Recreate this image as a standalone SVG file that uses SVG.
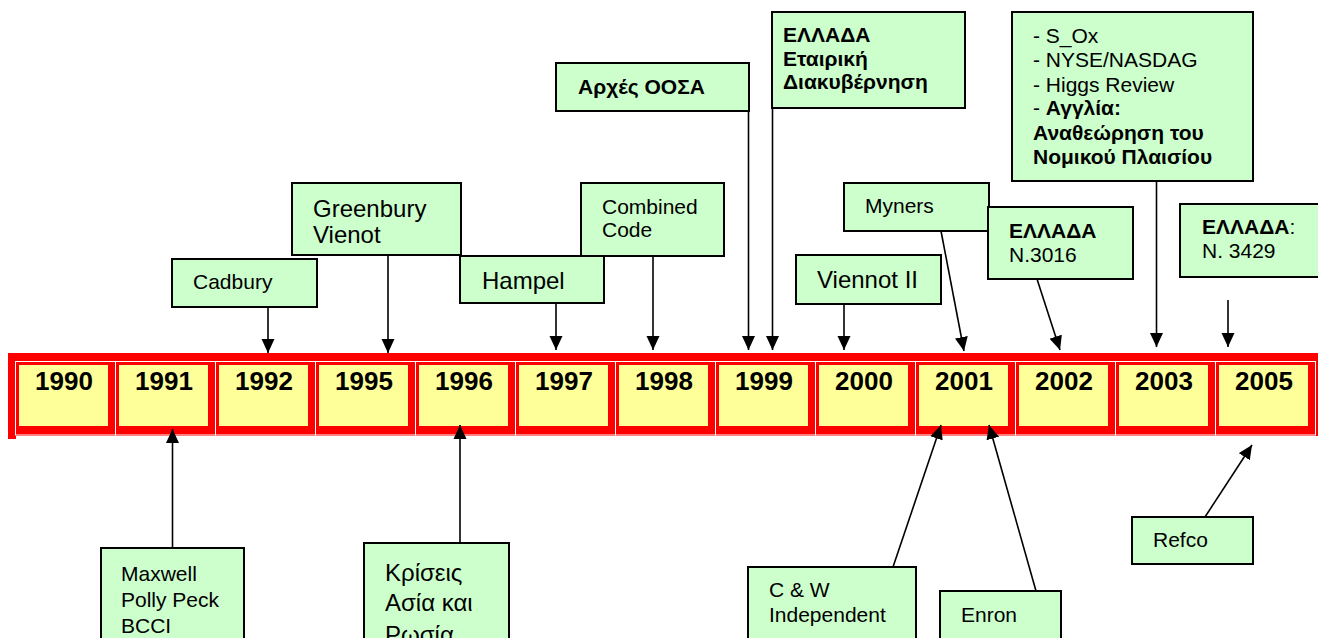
<svg xmlns="http://www.w3.org/2000/svg" width="1318" height="638" viewBox="0 0 1318 638">
<style>
text{font-family:"Liberation Sans",Arial,sans-serif;fill:#000}
.box{fill:#CCFFCC;stroke:#000;stroke-width:2}
.yr{font-size:26px;font-weight:bold;text-anchor:middle}
.cell{fill:#FF0000;stroke:#FFFFFF;stroke-width:1}
.yel{fill:#FFFF99}
.t21{font-size:21px}
.t24{font-size:24px}
.b{font-weight:bold}
.con line{stroke:#000;stroke-width:1.6;marker-end:url(#ah)}
</style>
<defs>
<marker id="ah" markerUnits="userSpaceOnUse" markerWidth="14" markerHeight="14" viewBox="0 0 14 14" refX="14" refY="7" orient="auto">
<path d="M0,0.5 L14,7 L0,13.5 Z" fill="#000"/>
</marker>
</defs>
<rect width="1318" height="638" fill="#FFFFFF"/>
<g id="timeline">
<rect x="8" y="353" width="1310" height="83" fill="#FF0000"/>
<rect x="8" y="353" width="8" height="86" fill="#FF0000"/>
<g id="y1990"><rect class="cell" x="15.5" y="361.5" width="100" height="73.5"/><rect class="yel" x="19" y="365" width="89" height="61"/><text class="yr" x="64" y="390">1990</text></g>
<g id="y1991"><rect class="cell" x="115.5" y="361.5" width="100" height="73.5"/><rect class="yel" x="119" y="365" width="89" height="61"/><text class="yr" x="164" y="390">1991</text></g>
<g id="y1992"><rect class="cell" x="215.5" y="361.5" width="100" height="73.5"/><rect class="yel" x="219" y="365" width="89" height="61"/><text class="yr" x="264" y="390">1992</text></g>
<g id="y1995"><rect class="cell" x="315.5" y="361.5" width="100" height="73.5"/><rect class="yel" x="319" y="365" width="89" height="61"/><text class="yr" x="364" y="390">1995</text></g>
<g id="y1996"><rect class="cell" x="415.5" y="361.5" width="100" height="73.5"/><rect class="yel" x="419" y="365" width="89" height="61"/><text class="yr" x="464" y="390">1996</text></g>
<g id="y1997"><rect class="cell" x="515.5" y="361.5" width="100" height="73.5"/><rect class="yel" x="519" y="365" width="89" height="61"/><text class="yr" x="564" y="390">1997</text></g>
<g id="y1998"><rect class="cell" x="615.5" y="361.5" width="100" height="73.5"/><rect class="yel" x="619" y="365" width="89" height="61"/><text class="yr" x="664" y="390">1998</text></g>
<g id="y1999"><rect class="cell" x="715.5" y="361.5" width="100" height="73.5"/><rect class="yel" x="719" y="365" width="89" height="61"/><text class="yr" x="764" y="390">1999</text></g>
<g id="y2000"><rect class="cell" x="815.5" y="361.5" width="100" height="73.5"/><rect class="yel" x="819" y="365" width="89" height="61"/><text class="yr" x="864" y="390">2000</text></g>
<g id="y2001"><rect class="cell" x="915.5" y="361.5" width="100" height="73.5"/><rect class="yel" x="919" y="365" width="89" height="61"/><text class="yr" x="964" y="390">2001</text></g>
<g id="y2002"><rect class="cell" x="1015.5" y="361.5" width="100" height="73.5"/><rect class="yel" x="1019" y="365" width="89" height="61"/><text class="yr" x="1064" y="390">2002</text></g>
<g id="y2003"><rect class="cell" x="1115.5" y="361.5" width="100" height="73.5"/><rect class="yel" x="1119" y="365" width="89" height="61"/><text class="yr" x="1164" y="390">2003</text></g>
<g id="y2005"><rect class="cell" x="1215.5" y="361.5" width="100" height="73.5"/><rect class="yel" x="1219" y="365" width="89" height="61"/><text class="yr" x="1264" y="390">2005</text></g>
</g>
<g id="connectors" class="con">
<line x1="268" y1="307" x2="268" y2="353"/>
<line x1="388" y1="256" x2="388" y2="353"/>
<line x1="556" y1="303" x2="556" y2="350"/>
<line x1="653" y1="256" x2="653" y2="350"/>
<line x1="748.5" y1="111" x2="748.5" y2="350"/>
<line x1="772.5" y1="108" x2="772.5" y2="350"/>
<line x1="844" y1="304" x2="844" y2="350"/>
<line x1="941" y1="231" x2="964" y2="351"/>
<line x1="1037" y1="279" x2="1060" y2="350"/>
<line x1="1156.5" y1="181" x2="1156.5" y2="347"/>
<line x1="1228" y1="300" x2="1228" y2="347"/>
<line x1="172.5" y1="548" x2="172.5" y2="429"/>
<line x1="460" y1="543" x2="460" y2="425"/>
<line x1="893" y1="567" x2="941" y2="425"/>
<line x1="1036" y1="591" x2="989" y2="425"/>
<line x1="1205" y1="517" x2="1252" y2="445"/>
</g>
<g id="n-greenbury"><rect class="box" x="292" y="183" width="169" height="72"/><text class="t24" x="313" y="216.5">Greenbury</text><text class="t24" x="313" y="243">Vienot</text></g>
<g id="n-cadbury"><rect class="box" x="172" y="259" width="145" height="48"/><text class="t21" x="193" y="289">Cadbury</text></g>
<g id="n-combined"><rect class="box" x="581" y="183" width="143" height="73"/><text class="t21" x="602" y="214">Combined</text><text class="t21" x="602" y="237">Code</text></g>
<g id="n-hampel"><rect class="box" x="460" y="256" width="144" height="47"/><text class="t24" x="482" y="289">Hampel</text></g>
<g id="n-oosa"><rect class="box" x="556" y="63" width="193" height="48"/><text class="t21 b" x="578" y="94">Αρχές ΟΟΣΑ</text></g>
<g id="n-ellada-ed"><rect class="box" x="772" y="12" width="193" height="96"/><text class="t21 b" x="783" y="42">ΕΛΛΑΔΑ</text><text class="t21 b" x="783" y="66">Εταιρική</text><text class="t21 b" x="783" y="89">Διακυβέρνηση</text></g>
<g id="n-viennot2"><rect class="box" x="796" y="255" width="145" height="49"/><text class="t24" x="817" y="288">Viennot II</text></g>
<g id="n-myners"><rect class="box" x="844" y="183" width="145" height="48"/><text class="t21" x="865" y="213">Myners</text></g>
<g id="n-n3016"><rect class="box" x="988" y="207" width="145" height="72"/><text class="t21 b" x="1009" y="238">ΕΛΛΑΔΑ</text><text class="t21" x="1009" y="262">N.3016</text></g>
<g id="n-sox"><rect class="box" x="1012" y="12" width="241" height="169"/><text class="t21" x="1033" y="43">- S_Ox</text><text class="t21" x="1033" y="67">- NYSE/NASDAG</text><text class="t21" x="1033" y="91.5">- Higgs Review</text><text class="t21" x="1033" y="115">- <tspan class="b">Αγγλία:</tspan></text><text class="t21 b" x="1033" y="140">Αναθεώρηση του</text><text class="t21 b" x="1033" y="164">Νομικού Πλαισίου</text></g>
<g id="n-n3429"><rect class="box" x="1180" y="204" width="150" height="73"/><text class="t21" x="1202" y="234"><tspan class="b">ΕΛΛΑΔΑ</tspan>:</text><text class="t21" x="1202" y="258">N. 3429</text></g>
<g id="n-maxwell"><rect class="box" x="101" y="548" width="143" height="100"/><text class="t21" x="121" y="581">Maxwell</text><text class="t21" x="121" y="607">Polly Peck</text><text class="t21" x="121" y="633">BCCI</text></g>
<g id="n-kriseis"><rect class="box" x="364" y="543" width="145" height="105"/><text class="t24" x="385" y="581">Κρίσεις</text><text class="t24" x="385" y="611">Ασία και</text><text class="t24" x="385" y="643">Ρωσία</text></g>
<g id="n-cw"><rect class="box" x="748" y="567" width="168" height="81"/><text class="t21" x="769" y="597">C &amp; W</text><text class="t21" x="769" y="622">Independent</text></g>
<g id="n-enron"><rect class="box" x="940" y="591" width="121" height="57"/><text class="t21" x="961" y="622">Enron</text></g>
<g id="n-refco"><rect class="box" x="1132" y="517" width="121" height="47"/><text class="t21" x="1153" y="547">Refco</text></g>
</svg>
